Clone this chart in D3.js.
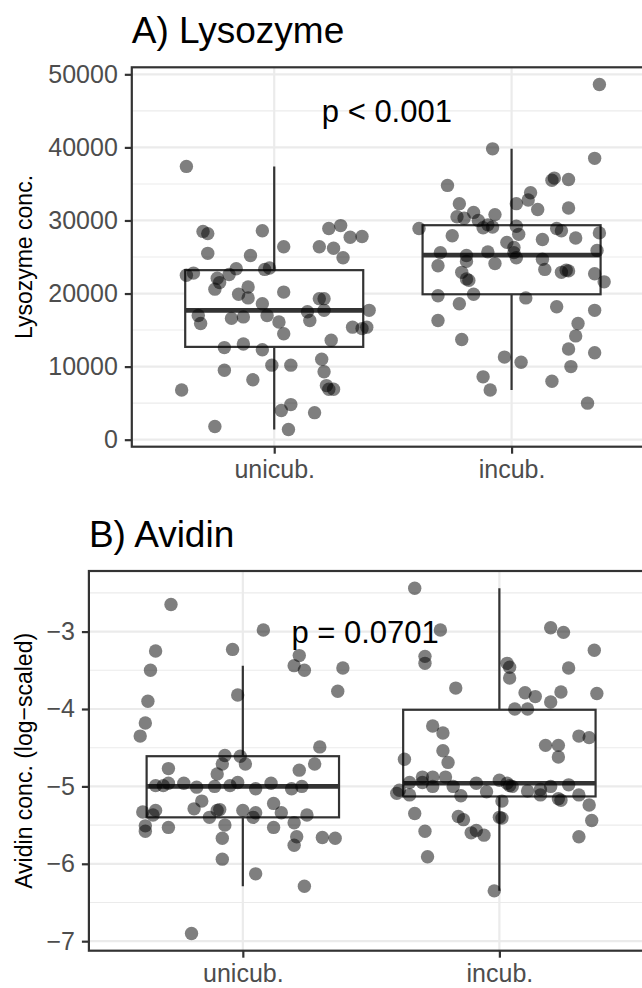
<!DOCTYPE html>
<html>
<head>
<meta charset="utf-8">
<script src="https://cdn.jsdelivr.net/npm/d3@7"></script>
<style>
body { margin: 0; background: #fff; }
text { font-family: "Liberation Sans", Arial, sans-serif; }
</style>
</head>
<body>
<div id="chart"></div>
<script>
var groups = ["unicub.", "incub."];

// lysozyme points: [jitter (category units), concentration]
var lysoUnicub = [
  [-0.37,37400],[-0.30,28500],[-0.28,28200],[-0.05,28600],[-0.28,25500],[-0.10,25200],
  [0.04,26400],[0.19,26400],[0.23,28900],[0.28,29300],[0.32,27700],[0.37,27800],
  [0.25,26200],[0.29,24900],[-0.37,22500],[-0.34,22800],[-0.24,22100],[-0.23,21500],
  [-0.19,22600],[-0.16,23400],[-0.04,23300],[-0.02,23500],[-0.25,20600],[-0.15,19900],
  [-0.11,20900],[-0.11,19400],[0.04,20200],[0.19,19300],[0.21,19300],[-0.05,18600],
  [-0.32,17000],[-0.31,15900],[-0.18,16600],[-0.13,16800],[-0.03,17000],[0.02,16100],
  [0.04,14500],[0.14,17500],[0.15,16300],[0.21,17700],[0.40,17700],[0.33,15400],
  [0.37,15200],[0.39,15400],[0.24,13600],[-0.21,12600],[-0.13,13100],[-0.05,12300],
  [0.20,11000],[-0.21,9500],[-0.01,10200],[0.07,10200],[0.21,9300],[-0.39,6800],
  [-0.09,8200],[0.22,7400],[0.23,6900],[0.25,6900],[0.03,4000],[0.07,4800],
  [0.17,3700],[-0.25,1800],[0.06,1400]
];
var lysoIncub = [
  [0.37,48600],[-0.08,39800],[0.35,38500],[-0.27,34800],[0.17,35500],[0.18,35800],
  [0.24,35600],[-0.22,32300],[0.08,33800],[0.07,32800],[0.02,32300],[0.11,31500],
  [0.24,31700],[-0.23,30500],[-0.20,30300],[-0.16,31100],[-0.07,30800],[-0.14,30000],
  [-0.12,29000],[-0.10,29400],[-0.08,29100],[-0.39,28900],[-0.25,27900],[0.02,29200],
  [0.03,28100],[-0.02,27000],[0.13,27400],[0.19,28900],[0.21,28600],[0.27,27600],
  [0.37,28300],[-0.30,25600],[-0.19,25200],[-0.19,24400],[-0.10,25700],[0.01,26300],
  [0.01,25600],[0.02,24900],[0.13,24700],[0.36,25900],[-0.31,23800],[-0.21,22900],
  [-0.19,22000],[-0.18,21800],[-0.07,24100],[0.14,23300],[0.21,22900],[0.23,23200],
  [0.24,23100],[0.35,22700],[0.39,21600],[-0.31,19700],[-0.16,19900],[-0.22,18600],
  [0.06,19400],[0.19,18200],[0.35,17700],[-0.31,16300],[0.28,15900],[0.27,14200],
  [-0.21,13700],[0.24,12400],[0.35,11900],[-0.03,11300],[0.04,10600],[0.25,10000],
  [-0.12,8600],[-0.09,6800],[0.17,8000],[0.32,5000]
];
// box stats: [lower whisker, q1, median, q3, upper whisker]
var lysoBox = [[1400,12700,17700,23200,37400],[6800,19900,25250,29350,39800]];
var lysoTicks = [0,10000,20000,30000,40000,50000];
var lysoMinor = [5000,15000,25000,35000,45000];
var lysoLabel = ["p < 0.001", 1.5, 45000];

// avidin points (log scale): [jitter, log conc]
var avidUnicub = [
  [-0.28,-2.65],[-0.34,-3.25],[-0.36,-3.50],[-0.37,-3.90],[-0.38,-4.18],[-0.40,-4.35],
  [-0.04,-3.23],[-0.02,-3.82],[0.08,-2.98],[0.22,-3.31],[0.20,-3.44],[0.24,-3.50],
  [0.39,-3.47],[0.37,-3.77],[0.30,-4.49],[-0.07,-4.60],[-0.08,-4.71],[-0.01,-4.61],
  [0.01,-4.71],[-0.29,-4.77],[0.28,-4.71],[0.22,-4.79],[-0.10,-4.84],[-0.34,-4.99],
  [-0.31,-4.99],[-0.29,-4.96],[-0.23,-4.96],[-0.18,-5.01],[-0.11,-5.00],[-0.05,-4.99],
  [-0.02,-4.95],[0.05,-5.03],[0.11,-4.96],[0.19,-5.03],[0.23,-5.00],[-0.16,-5.19],
  [-0.19,-5.29],[-0.39,-5.33],[-0.35,-5.37],[-0.34,-5.31],[-0.38,-5.51],[-0.38,-5.58],
  [-0.29,-5.53],[-0.13,-5.40],[-0.09,-5.30],[-0.10,-5.31],[-0.07,-5.50],[-0.08,-5.67],
  [0.00,-5.31],[0.05,-5.34],[0.04,-5.40],[0.12,-5.22],[0.15,-5.34],[0.12,-5.53],
  [0.20,-5.47],[0.25,-5.37],[0.21,-5.65],[0.20,-5.76],[0.31,-5.66],[0.36,-5.67],
  [-0.08,-5.94],[0.05,-6.13],[0.24,-6.29],[-0.20,-6.90]
];
var avidIncub = [
  [-0.33,-2.44],[-0.23,-2.98],[-0.29,-3.32],[-0.29,-3.41],[-0.17,-3.73],[0.20,-2.95],
  [0.25,-3.01],[0.37,-3.24],[0.27,-3.47],[0.03,-3.41],[0.04,-3.46],[0.04,-3.60],
  [0.10,-3.79],[0.14,-3.84],[0.24,-3.78],[0.20,-3.91],[0.38,-3.80],[0.06,-4.00],
  [0.11,-4.00],[-0.26,-4.22],[-0.22,-4.31],[-0.22,-4.54],[-0.20,-4.69],[-0.37,-4.65],
  [0.18,-4.47],[0.23,-4.47],[0.23,-4.62],[0.31,-4.35],[0.35,-4.37],[-0.35,-4.95],
  [-0.30,-4.88],[-0.30,-4.95],[-0.26,-4.88],[-0.26,-5.00],[-0.21,-4.88],[-0.40,-5.09],
  [-0.39,-5.05],[-0.35,-5.11],[-0.18,-5.00],[-0.15,-5.12],[-0.09,-4.96],[-0.05,-5.07],
  [0.00,-4.92],[0.03,-4.96],[0.04,-4.99],[0.05,-5.00],[0.01,-5.19],[0.11,-5.06],
  [0.16,-5.04],[0.16,-5.11],[0.20,-5.00],[0.23,-5.16],[0.24,-5.18],[0.27,-4.98],
  [0.31,-5.11],[0.35,-5.24],[0.36,-5.44],[-0.33,-5.35],[-0.29,-5.58],[-0.28,-5.91],
  [-0.16,-5.39],[-0.14,-5.43],[-0.11,-5.60],[-0.09,-5.57],[-0.06,-5.63],[0.00,-5.40],
  [0.01,-5.41],[0.31,-5.65],[-0.02,-6.35]
];
var avidBox = [[-6.29,-5.40,-5.00,-4.61,-3.44],[-6.35,-5.13,-4.96,-4.01,-2.44]];
var avidTicks = [-7,-6,-5,-4,-3];
var avidMinor = [-6.5,-5.5,-4.5,-3.5,-2.5];
var avidLabel = ["p = 0.0701", 1.5, -3];

var width = 642;
var height = 988;

var svg = d3.select("#chart")
            .append("svg")
            .attr("width", width)
            .attr("height", height);

svg.append("rect").attr("width", width).attr("height", height).attr("fill", "#fff");

function drawPanel(opt) {
  var all = opt.points[0].concat(opt.points[1]).map(function(d) { return d[1]; });
  opt.box.forEach(function(b) { all.push(b[0], b[4]); });
  var lo = d3.min(all), hi = d3.max(all), pad = (hi - lo) * 0.05;

  var x = d3.scaleLinear().domain([0.4, 2.6]).range([opt.left, opt.right]);
  var y = d3.scaleLinear().domain([lo - pad, hi + pad]).range([opt.bottom, opt.top]);

  var g = svg.append("g");
  var clipId = "clip_" + opt.id;
  g.append("clipPath").attr("id", clipId)
   .append("rect")
   .attr("x", opt.left).attr("y", opt.top)
   .attr("width", opt.right - opt.left).attr("height", opt.bottom - opt.top);

  var inner = g.append("g").attr("clip-path", "url(#" + clipId + ")");

  // grid
  inner.selectAll("line.minor").data(opt.minor).enter().append("line")
       .attr("x1", opt.left).attr("x2", opt.right)
       .attr("y1", function(d) { return y(d); }).attr("y2", function(d) { return y(d); })
       .attr("stroke", "#ebebeb").attr("stroke-width", 1.1);
  inner.selectAll("line.major").data(opt.ticks).enter().append("line")
       .attr("x1", opt.left).attr("x2", opt.right)
       .attr("y1", function(d) { return y(d); }).attr("y2", function(d) { return y(d); })
       .attr("stroke", "#ebebeb").attr("stroke-width", 2.2);
  inner.selectAll("line.vmajor").data([1, 2]).enter().append("line")
       .attr("x1", function(d) { return x(d); }).attr("x2", function(d) { return x(d); })
       .attr("y1", opt.top).attr("y2", opt.bottom)
       .attr("stroke", "#ebebeb").attr("stroke-width", 2.2);

  // boxplots
  var boxW = 0.375;
  opt.box.forEach(function(b, i) {
    var c = i + 1;
    var bg = inner.append("g");
    bg.append("line").attr("x1", x(c)).attr("x2", x(c))
      .attr("y1", y(b[3])).attr("y2", y(b[4]))
      .attr("stroke", "#333").attr("stroke-width", 2.2);
    bg.append("line").attr("x1", x(c)).attr("x2", x(c))
      .attr("y1", y(b[1])).attr("y2", y(b[0]))
      .attr("stroke", "#333").attr("stroke-width", 2.2);
    bg.append("rect")
      .attr("x", x(c - boxW)).attr("width", x(c + boxW) - x(c - boxW))
      .attr("y", y(b[3])).attr("height", y(b[1]) - y(b[3]))
      .attr("fill", "#fff").attr("stroke", "#333").attr("stroke-width", 2.2);
    bg.append("line").attr("x1", x(c - boxW)).attr("x2", x(c + boxW))
      .attr("y1", y(b[2])).attr("y2", y(b[2]))
      .attr("stroke", "#333").attr("stroke-width", 4.6);
  });

  // jittered points
  opt.points.forEach(function(pts, i) {
    inner.selectAll("circle.g" + i).data(pts).enter().append("circle")
         .attr("cx", function(d) { return x(i + 1 + d[0]); })
         .attr("cy", function(d) { return y(d[1]); })
         .attr("r", 6.7)
         .attr("fill", "#000")
         .attr("fill-opacity", 0.5);
  });

  // p value
  g.append("text")
   .attr("x", x(opt.label[1]) - 6)
   .attr("y", y(opt.label[2]))
   .attr("dy", "0.36em")
   .attr("text-anchor", "middle")
   .attr("font-size", 31)
   .attr("fill", "#000")
   .text(opt.label[0]);

  // border
  g.append("rect")
   .attr("x", opt.left).attr("y", opt.top)
   .attr("width", opt.right - opt.left).attr("height", opt.bottom - opt.top)
   .attr("fill", "none").attr("stroke", "#333").attr("stroke-width", 2.2);

  // axes
  var yAxis = d3.axisLeft(y).tickValues(opt.ticks).tickSize(7).tickPadding(7)
                .tickFormat(d3.format("d"));
  var ya = g.append("g").attr("transform", "translate(" + opt.left + ",0)").call(yAxis);
  var xAxis = d3.axisBottom(x).tickValues([1, 2]).tickSize(7).tickPadding(7)
                .tickFormat(function(d) { return groups[d - 1]; });
  var xa = g.append("g").attr("transform", "translate(0," + opt.bottom + ")").call(xAxis);

  [ya, xa].forEach(function(a) {
    a.select(".domain").remove();
    a.selectAll(".tick line").attr("stroke", "#333").attr("stroke-width", 2.2);
    a.selectAll(".tick text").attr("fill", "#4d4d4d")
     .attr("font-size", 25).attr("font-family", "Liberation Sans, Arial, sans-serif");
  });

  // axis title
  g.append("text")
   .attr("transform", "translate(32," + ((opt.top + opt.bottom) / 2) + ") rotate(-90)")
   .attr("text-anchor", "middle")
   .attr("font-size", 23)
   .attr("fill", "#000")
   .text(opt.yTitle);

  // panel title
  g.append("text")
   .attr("x", opt.left)
   .attr("y", opt.titleY)
   .attr("font-size", 37)
   .attr("fill", "#000")
   .text(opt.title);
}

drawPanel({
  id: "a", title: "A) Lysozyme", titleY: 43.3, yTitle: "Lysozyme conc.",
  left: 131.8, right: 654, top: 67.3, bottom: 446.7,
  points: [lysoUnicub, lysoIncub], box: lysoBox,
  ticks: lysoTicks, minor: lysoMinor, label: lysoLabel
});

drawPanel({
  id: "b", title: "B) Avidin", titleY: 546.7, yTitle: "Avidin conc. (log\u2212scaled)",
  left: 88.9, right: 653.3, top: 571, bottom: 950.7,
  points: [avidUnicub, avidIncub], box: avidBox,
  ticks: avidTicks, minor: avidMinor, label: avidLabel
});
</script>
</body>
</html>
